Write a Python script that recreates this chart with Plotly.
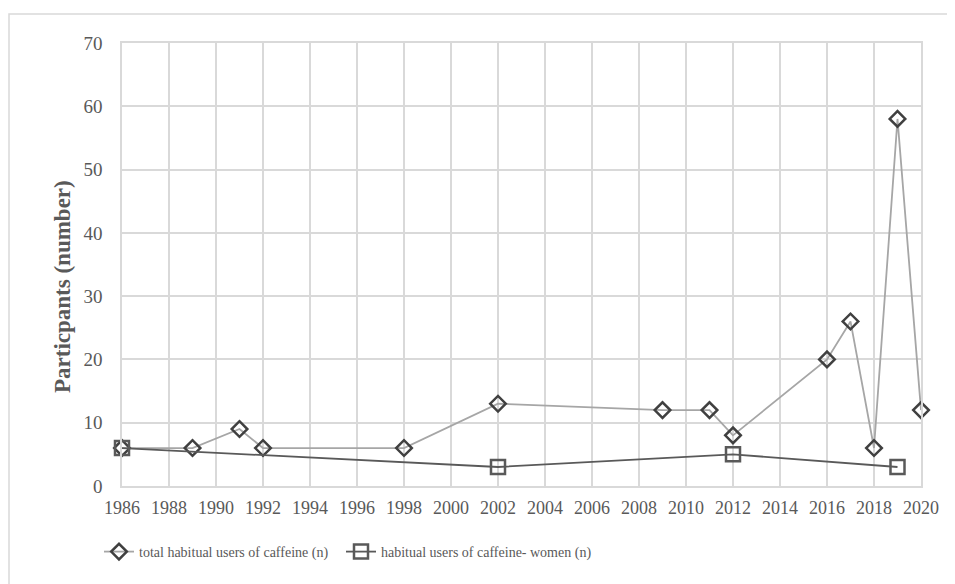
import plotly.graph_objects as go

years_total = [1986, 1989, 1991, 1992, 1998, 2002, 2009, 2011, 2012, 2016, 2017, 2018, 2019, 2020]
total_users = [6, 6, 9, 6, 6, 13, 12, 12, 8, 20, 26, 6, 58, 12]

years_women = [1986, 2002, 2012, 2019]
women_users = [6, 3, 5, 3]

name_total = "total habitual users of caffeine (n)"
name_women = "habitual users of caffeine- women (n)"
y_title = "Particpants (number)"

W, H = 955, 584
OFF = 8  # page body margin offset
L, R, T, B = 122 - OFF, 921 - OFF, 43 - OFF, 486 - OFF
pw, ph = R - L, B - T

grey = "#595959"
grid = "#d9d9d9"
font_family = "Liberation Serif, Times New Roman, serif"


def px(xp):
    return (xp - OFF - L) / pw


def py(yp):
    return (B - (yp - OFF)) / ph


fig = go.Figure()
fig.add_trace(go.Scatter(
    x=years_total, y=total_users, name=name_total, mode="lines+markers",
    line=dict(color="#a6a6a6", width=1.8), cliponaxis=False, legend="legend",
    marker=dict(symbol="diamond-open", size=12, color="#404040", line=dict(width=2.5, color="#404040")),
))
fig.add_trace(go.Scatter(
    x=years_women, y=women_users, name=name_women, mode="lines+markers",
    line=dict(color="#595959", width=1.8), cliponaxis=False, legend="legend2",
    marker=dict(symbol="square-open", size=14, color="#595959", line=dict(width=2.5, color="#595959")),
))

legend_common = dict(orientation="h", xanchor="left", yanchor="middle",
                     font=dict(size=14, color=grey, family=font_family),
                     bgcolor="rgba(0,0,0,0)")

fig.update_layout(
    width=W, height=H,
    margin=dict(l=L, r=W - R, t=T, b=H - B, pad=0),
    paper_bgcolor="white", plot_bgcolor="white",
    font=dict(family=font_family, color=grey, size=18),
    showlegend=True,
    legend=dict(x=px(103 - 4), y=py(552), **legend_common),
    legend2=dict(x=px(345 - 4), y=py(552), **legend_common),
    xaxis=dict(range=[1986, 2020], tick0=1986, dtick=2, showgrid=True, gridcolor=grid, gridwidth=1.5,
               showline=True, linecolor=grid, linewidth=1.5, mirror=True, zeroline=False,
               ticks="outside", ticklen=5, tickcolor="rgba(0,0,0,0)",
               tickfont=dict(size=18, color=grey, family=font_family)),
    yaxis=dict(range=[0, 70], tick0=0, dtick=10, showgrid=True, gridcolor=grid, gridwidth=1.5,
               showline=True, linecolor=grid, linewidth=1.5, mirror=True, zeroline=False,
               ticks="outside", ticklen=14, tickcolor="rgba(0,0,0,0)",
               tickfont=dict(size=19, color=grey, family=font_family)),
    annotations=[dict(text="<b>" + y_title + "</b>", xref="paper", yref="paper",
                      x=px(62), y=py(286), showarrow=False, textangle=-90,
                      font=dict(size=23, color=grey, family=font_family),
                      xanchor="center", yanchor="middle")],
    shapes=[dict(type="rect", xref="paper", yref="paper",
                 x0=px(9), x1=px(W + 40),
                 y0=py(H + 40), y1=py(14),
                 line=dict(color=grid, width=1.5), fillcolor="rgba(0,0,0,0)", layer="below")],
)

fig.write_html("out.html")
